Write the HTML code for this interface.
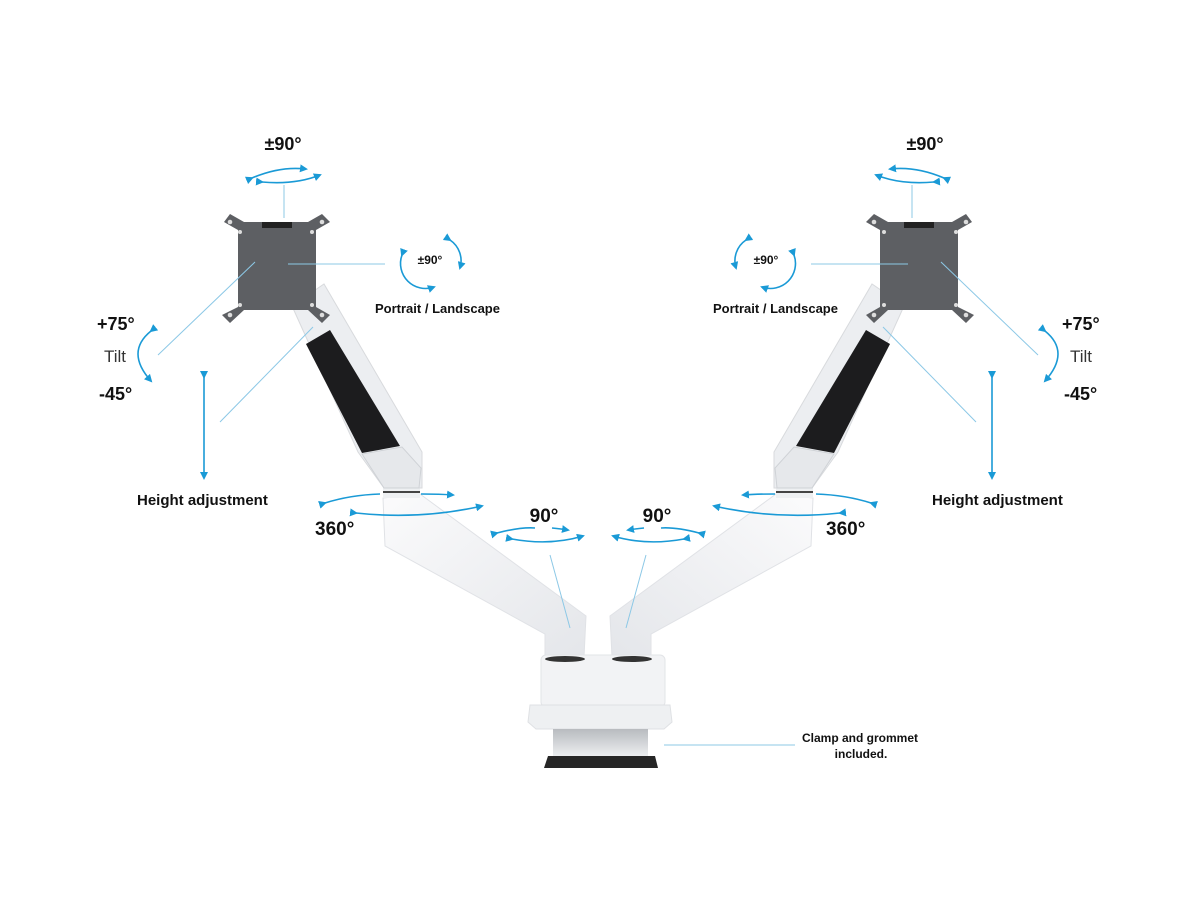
<!DOCTYPE html>
<html><head><meta charset="utf-8"><style>
html,body{margin:0;padding:0;background:#fff;}
svg{display:block;}
text{font-family:"Liberation Sans",sans-serif;font-weight:bold;fill:#111;}
</style></head><body>
<svg width="1200" height="900" viewBox="0 0 1200 900" xmlns="http://www.w3.org/2000/svg">
<defs>
<marker id="ah" markerWidth="8" markerHeight="8" refX="6" refY="4" orient="auto" markerUnits="userSpaceOnUse">
<path d="M0,0 L8,4 L0,8 Z" fill="#1a9ad6"/></marker>
<linearGradient id="arm" x1="0" y1="0" x2="1" y2="1"><stop offset="0" stop-color="#fbfbfc"/><stop offset="1" stop-color="#e4e6ea"/></linearGradient>
<linearGradient id="clamp" x1="0" y1="0" x2="0" y2="1"><stop offset="0" stop-color="#b8bbbf"/><stop offset="1" stop-color="#eceef0"/></linearGradient>
<g id="side">
  <!-- lower arm -->
  <path d="M383,498 L420,494 L586,616 L584,657 L545,657 L545,634 L385,546 Z" fill="url(#arm)" stroke="#e0e2e6" stroke-width="1"/>
  <rect x="383" y="486" width="37" height="12" fill="#eef0f2"/>
  <line x1="383" y1="492" x2="420" y2="492" stroke="#444" stroke-width="2"/>
  <!-- upper arm -->
  <path d="M292,306 L324,284 L422,452 L422,488 L384,488 L358,452 Z" fill="#eceef1" stroke="#d8dadd"/>
  <path d="M306,344 L330,330 L400,446 L362,453 Z" fill="#1c1c1e"/>
  <path d="M362,454 L402,447 L421,468 L419,488 L384,488 Z" fill="#e6e8eb" stroke="#cfd2d6"/>
  <!-- plate -->
  <path d="M238,230 L224,222 L230,214 L244,222 L308,222 L322,214 L330,222 L316,230 L316,307 L330,315 L322,323 L308,310 L244,310 L230,323 L222,315 L238,307 Z" fill="#5d5f63"/>
  <rect x="262" y="222" width="30" height="6" fill="#222"/>
  <circle cx="230" cy="222" r="2.3" fill="#ddd"/><circle cx="322" cy="222" r="2.3" fill="#ddd"/>
  <circle cx="230" cy="315" r="2.3" fill="#ddd"/><circle cx="322" cy="315" r="2.3" fill="#ddd"/>
  <circle cx="240" cy="232" r="2" fill="#ddd"/><circle cx="312" cy="232" r="2" fill="#ddd"/>
  <circle cx="240" cy="305" r="2" fill="#ddd"/><circle cx="312" cy="305" r="2" fill="#ddd"/>
  <g stroke="#8cc8e6" stroke-width="1" fill="none">
    <line x1="284" y1="185" x2="284" y2="218"/>
    <line x1="288" y1="264" x2="385" y2="264"/>
    <line x1="255" y1="262" x2="158" y2="355"/>
    <line x1="313" y1="327" x2="220" y2="422"/>
    <line x1="550" y1="555" x2="570" y2="628"/>
  </g>
  <g stroke="#1a9ad6" stroke-width="1.6" fill="none">
    <path d="M252,178 Q280,166 306,169" marker-end="url(#ah)" marker-start="url(#ah)"/>
    <path d="M262,182 Q295,185 320,175" marker-end="url(#ah)" marker-start="url(#ah)"/>
    <path d="M450,240 A25,25 0 0 1 460,268" marker-end="url(#ah)" marker-start="url(#ah)"/>
    <path d="M402,255 A25,25 0 0 0 434,287" marker-end="url(#ah)" marker-start="url(#ah)"/>
    <path d="M151,331 Q125,352 151,381" marker-end="url(#ah)" marker-start="url(#ah)"/>
    <line x1="204" y1="377" x2="204" y2="478" marker-end="url(#ah)" marker-start="url(#ah)"/>
    <path d="M325,503 Q350,495 380,494" marker-start="url(#ah)"/>
    <path d="M421,494 Q440,494 453,495" marker-end="url(#ah)"/>
    <path d="M356,513 Q420,520 482,506" marker-end="url(#ah)" marker-start="url(#ah)"/>
    <path d="M497,533 Q520,527 535,528" marker-start="url(#ah)"/>
    <path d="M552,528 Q562,529 568,530" marker-end="url(#ah)"/>
    <path d="M512,539 Q550,546 583,536" marker-end="url(#ah)" marker-start="url(#ah)"/>
  </g>
</g>
</defs>
<use href="#side"/>
<use href="#side" transform="translate(1196,0) scale(-1,1)"/>
<rect x="541" y="655" width="124" height="52" rx="5" fill="#f2f3f5" stroke="#e2e4e7"/>
<ellipse cx="565" cy="659" rx="20" ry="3" fill="#333"/>
<ellipse cx="632" cy="659" rx="20" ry="3" fill="#333"/>
<path d="M530,705 L670,705 L672,722 L664,729 L536,729 L528,722 Z" fill="#eef0f2" stroke="#dfe1e4"/>
<rect x="553" y="729" width="95" height="27" fill="url(#clamp)"/>
<path d="M548,756 L655,756 L658,768 L544,768 Z" fill="#262626"/>
<line x1="664" y1="745" x2="795" y2="745" stroke="#8cc8e6" stroke-width="1"/>
<text x="283" y="150" font-size="18" text-anchor="middle">±90°</text>
<text x="925" y="150" font-size="18" text-anchor="middle">±90°</text>
<text x="430" y="264" font-size="12" text-anchor="middle">±90°</text>
<text x="766" y="264" font-size="12" text-anchor="middle">±90°</text>
<text x="375" y="313" font-size="13">Portrait / Landscape</text>
<text x="713" y="313" font-size="13">Portrait / Landscape</text>
<text x="97" y="330" font-size="18">+75°</text>
<text x="1062" y="330" font-size="18">+75°</text>
<text x="104" y="362" font-size="17" style="font-weight:normal;fill:#333">Tilt</text>
<text x="1070" y="362" font-size="17" style="font-weight:normal;fill:#333">Tilt</text>
<text x="99" y="400" font-size="18">-45°</text>
<text x="1064" y="400" font-size="18">-45°</text>
<text x="137" y="505" font-size="15">Height adjustment</text>
<text x="932" y="505" font-size="15">Height adjustment</text>
<text x="315" y="535" font-size="19">360°</text>
<text x="826" y="535" font-size="19">360°</text>
<text x="544" y="522" font-size="19" text-anchor="middle">90°</text>
<text x="657" y="522" font-size="19" text-anchor="middle">90°</text>
<text x="860" y="742" font-size="12" text-anchor="middle">Clamp and grommet</text>
<text x="861" y="758" font-size="12" text-anchor="middle">included.</text>
</svg>
</body></html>
